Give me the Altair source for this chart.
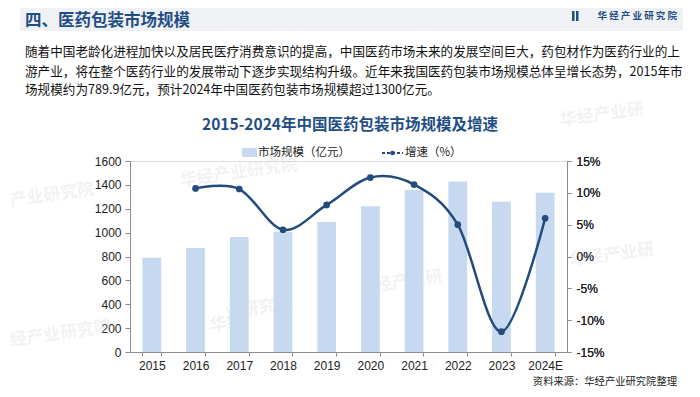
import altair as alt
import pandas as pd

# ---------------- data ----------------
years = ["2015", "2016", "2017", "2018", "2019", "2020", "2021", "2022", "2023", "2024E"]
market_size = [789.9, 872, 964, 1007, 1090, 1221, 1357, 1428, 1258, 1333]
growth_years = ["2016", "2017", "2018", "2019", "2020", "2021", "2022", "2023", "2024E"]
growth_rate = [10.7, 10.6, 4.2, 8.1, 12.4, 11.3, 5.0, -11.8, 6.0]

left_ticks = [0, 200, 400, 600, 800, 1000, 1200, 1400, 1600]
right_ticks = [-15, -10, -5, 0, 5, 10, 15]

header_title = "四、医药包装市场规模"
logo_text = "华 经 产 业 研 究 院"
para_lines = [
    "随着中国老龄化进程加快以及居民医疗消费意识的提高，中国医药市场未来的发展空间巨大，药包材作为医药行业的上",
    "游产业，将在整个医药行业的发展带动下逐步实现结构升级。近年来我国医药包装市场规模总体呈增长态势，2015年市",
    "场规模约为789.9亿元，预计2024年中国医药包装市场规模超过1300亿元。",
]
chart_title = "2015-2024年中国医药包装市场规模及增速"
legend_bar = "市场规模（亿元）"
legend_line = "增速（%）"
source_text = "资料来源：华经产业研究院整理"
watermarks = ["华经产业研究院", "产业研究院", "华经产业研", "华经产业研", "经产业研究院", "华经", "经产业研", "业研究院"]

CJK = "Noto Sans CJK SC"
NUM = "Liberation Sans"
BAR = "#c6d9f1"
LINE = "#234b7c"
TITLE = "#1f4e86"

W, H = 437, 191

bars_df = pd.DataFrame({"year": years, "size": market_size})
line_df = pd.DataFrame({"year": growth_years, "rate": growth_rate})

xscale = alt.Scale(domain=years, paddingInner=0.57, paddingOuter=0.285)
xaxis = alt.Axis(title=None, labelFont=NUM, labelFontSize=12, labelColor="#222222",
                 domainColor="#8c8c8c", tickColor="#8c8c8c", tickSize=4,
                 labelPadding=4, tickBand="extent", labelAngle=0, grid=False)

bars = alt.Chart(bars_df).mark_bar(color=BAR).encode(
    x=alt.X("year:N", scale=xscale, axis=xaxis, sort=years),
    y=alt.Y("size:Q", scale=alt.Scale(domain=[0, 1600], nice=False),
            axis=alt.Axis(title=None, values=left_ticks, orient="left", format="d",
                          labelFont=NUM, labelFontSize=12, labelColor="#222222",
                          domainColor="#8c8c8c", tickColor="#8c8c8c", tickSize=5,
                          labelPadding=4, grid=False)),
)

rate_y = alt.Y("rate:Q", scale=alt.Scale(domain=[-15, 15], nice=False),
               axis=alt.Axis(title=None, values=right_ticks, orient="right", labelFont=NUM,
                             labelFontSize=12, labelColor="#222222", domainColor="#8c8c8c",
                             tickColor="#8c8c8c", tickSize=4, labelPadding=5, grid=False,
                             labelExpr="datum.value + '%'"))

line = alt.Chart(line_df).mark_line(color=LINE, strokeWidth=2.5, interpolate="cardinal").encode(
    x=alt.X("year:N", scale=xscale, sort=years),
    y=rate_y,
)
pts = alt.Chart(line_df).mark_circle(color=LINE, size=45, opacity=1).encode(
    x=alt.X("year:N", scale=xscale, sort=years),
    y=rate_y,
)


def txt(s, x, y, size, color, weight="normal", align="left", baseline="middle", font=CJK,
        angle=0, opacity=1.0):
    return alt.Chart(pd.DataFrame({"t": [s]})).mark_text(
        align=align, baseline=baseline, fontSize=size, font=font, fontWeight=weight,
        color=color, angle=angle, opacity=opacity
    ).encode(x=alt.value(x), y=alt.value(y), text="t:N")


def box(x1, x2, y1, y2, color, opacity=1.0):
    return alt.Chart(pd.DataFrame({"a": [0]})).mark_rect(color=color, opacity=opacity).encode(
        x=alt.value(x1), x2=alt.value(x2), y=alt.value(y1), y2=alt.value(y2))


# watermarks (faint)
wm_pos = [(50, 20), (-120, 40), (430, -40), (440, 100), (-120, 180), (80, 165), (245, 125), (95, 152)]
wm_layers = [txt(s, x, y, 17, "#cfcfcf", weight="bold", angle=352, opacity=0.25)
             for s, (x, y) in zip(watermarks, wm_pos)]

deco = [
    box(-110, 553, -156, -130, "#eff1f4"),
    txt(header_title, -105, -140, 16.5, TITLE, weight="bold"),
    box(442, 444.5, -150, -140, TITLE),
    box(446, 448.5, -150, -140, TITLE),
    txt(logo_text, 547, -145, 9.5, TITLE, weight="bold", align="right"),
    txt(para_lines[0], -105, -109, 12.6, "#111111"),
    txt(para_lines[1], -105, -89, 12.6, "#111111"),
    txt(para_lines[2], -105, -71, 12.6, "#111111"),
    txt(chart_title, 220, -36, 15.5, TITLE, weight="bold", align="center"),
    box(112, 127, -13, -4, BAR),
    txt(legend_bar, 128, -8, 11.5, "#222222"),
    alt.Chart(pd.DataFrame({"a": [0]})).mark_rule(color=LINE, strokeWidth=2, strokeDash=[3, 2]).encode(
        x=alt.value(252), x2=alt.value(273), y=alt.value(-8)),
    alt.Chart(pd.DataFrame({"a": [0]})).mark_circle(color=LINE, size=22, opacity=1).encode(
        x=alt.value(262.5), y=alt.value(-8)),
    txt(legend_line, 275, -8, 11.5, "#222222"),
    txt(source_text, 547, 221, 10.3, "#222222", align="right", baseline="middle"),
]

chart = alt.layer(*wm_layers, bars, line, pts, *deco).resolve_scale(y="independent").properties(
    width=W, height=H,
    autosize=alt.AutoSizeParams(type="none"),
    padding={"left": 122, "top": 153, "right": 125, "bottom": 37},
).configure_view(stroke=None).configure(background="white")

chart.save("out.html", embed_options={"renderer": "svg", "actions": False})
